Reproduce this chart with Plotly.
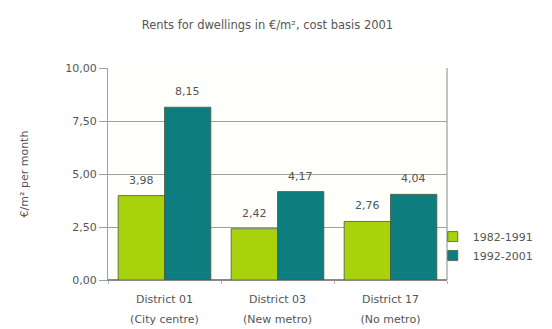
import plotly.graph_objects as go

categories = ["District 01|(City centre)", "District 03|(New metro)", "District 17|(No metro)"]
series_names = ["1982-1991", "1992-2001"]
values_1982_1991 = [3.98, 2.42, 2.76]
values_1992_2001 = [8.15, 4.17, 4.04]
y_ticks = [0, 2.5, 5, 7.5, 10]

colors = ["#a8d20c", "#0e7d80"]
FONT = "DejaVu Sans, Verdana, sans-serif"
TXT = "#555555"
BARGAP = 0.18
W, H = 552, 329
ML, MR, MT, MB = 100, 113, 60, 57

def fmt(v):
    return f"{v:.2f}".replace(".", ",")

def tick_text(c):
    return "<br>".join(f"<span style='font-size:11px'>{p}</span>" for p in c.split("|"))

fig = go.Figure()
plot_w = W - ML - MR
bar_w_px = plot_w / len(categories) * (1 - BARGAP) / 2
for i, (name, vals, col) in enumerate(zip(series_names, [values_1982_1991, values_1992_2001], colors)):
    fig.add_trace(go.Bar(
        x=categories, y=vals, name=name, showlegend=False,
        marker=dict(color=col, line=dict(color="#4a5a40", width=0.8)),
    ))
    fig.add_trace(go.Scatter(
        x=[None], y=[None], mode="markers", name=name,
        marker=dict(symbol="square", size=10, color=col,
                    line=dict(color="#4a5a40", width=0.8)),
    ))
    shift = (i - 0.5) * bar_w_px
    for c, v in zip(categories, vals):
        fig.add_annotation(x=c, y=v, text=fmt(v), showarrow=False,
                           xshift=shift, yshift=7, yanchor="bottom",
                           font=dict(size=11, color=TXT, family=FONT))

fig.update_layout(
    width=W, height=H,
    margin=dict(l=ML, r=MR, t=MT, b=MB),
    paper_bgcolor="white", plot_bgcolor="#fefefa",
    separators=",.",
    font=dict(family=FONT, size=11, color=TXT),
    barmode="group", bargap=BARGAP, bargroupgap=0,
    title=dict(text="Rents for dwellings in €/m², cost basis 2001", x=0.47, xanchor="center",
               y=0.948, yanchor="middle", font=dict(size=11.5, color=TXT, family=FONT)),
    legend=dict(x=0.958, xanchor="left", y=0.16, yanchor="middle",
                font=dict(size=11, color=TXT, family=FONT), itemwidth=30,
                tracegroupgap=0, bgcolor="rgba(0,0,0,0)"),
    showlegend=True,
)
fig.update_yaxes(
    range=[0, 10], tickvals=y_ticks, tickformat=".2f",
    showgrid=True, gridcolor="#a0a0a0", gridwidth=1,
    showline=True, linecolor="#9aa0b0", linewidth=1, mirror=False,
    ticks="outside", ticklen=8, tickcolor="#9aa0b0",
    zeroline=True, zerolinecolor="#8a8a8a",
    title=dict(text="€/m² per month", font=dict(size=11, color=TXT, family=FONT), standoff=34),
    tickfont=dict(size=11, color=TXT, family=FONT),
)
fig.update_xaxes(
    tickvals=categories, ticktext=[tick_text(c) for c in categories],
    showline=True, linecolor="#8a8a8a", linewidth=1, mirror=False,
    tickfont=dict(size=15, color=TXT, family=FONT),
    ticks="outside", tickson="boundaries", ticklen=3, tickcolor="#b0b0b0",
    ticklabelstandoff=4,
)
fig.add_shape(type="line", xref="paper", yref="paper", x0=1, x1=1, y0=0, y1=1,
              line=dict(color="#8a8a8a", width=1))

fig.write_html("out.html")
